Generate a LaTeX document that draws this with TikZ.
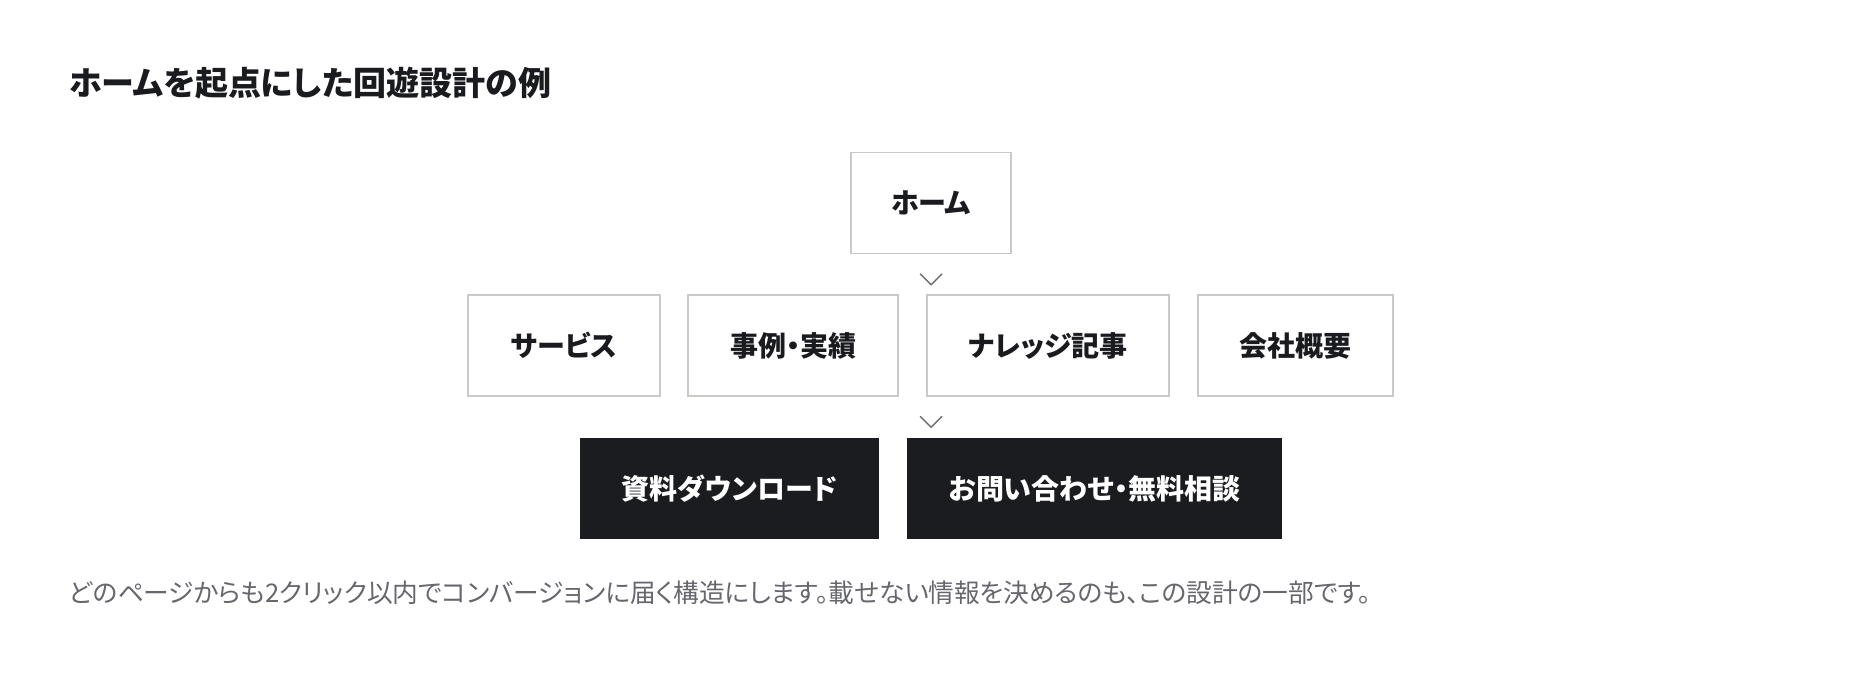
\documentclass[tikz,border=0pt]{standalone}
\usepackage{fontspec}
\setmainfont{Noto Sans CJK JP}[CharacterWidth=AlternateProportional]
\usetikzlibrary{calc}
\definecolor{inkc}{HTML}{1A1B1F}
\definecolor{edgec}{HTML}{C9C9C5}
\definecolor{darkc}{HTML}{1B1C20}
\definecolor{chevc}{HTML}{6B6E75}
\definecolor{notec}{HTML}{66676D}
\tikzset{
  pagebox/.style={draw=edgec, line width=1.5pt, fill=white, text=inkc, minimum height=101pt, inner sep=0pt, font=\fontsize{28}{32}\selectfont\bfseries},
  cvbox/.style={fill=darkc, text=white, minimum height=101pt, inner sep=0pt, font=\fontsize{28}{32}\selectfont\bfseries},
  chev/.style={draw=chevc, line width=1.4pt, line join=miter}
}
\begin{document}
\begin{tikzpicture}[x=1pt, y=-1pt]
	\useasboundingbox (0,0) rectangle (1860,684);
	% Tiêu đề
	\node[anchor=west, text=inkc, inner sep=0pt, font=\fontsize{33}{37}\selectfont\bfseries] (title) at (69,83) {ホームを起点にした回遊設計の例};
	% Hàng 1
	\node[pagebox, minimum width=160pt] (home) at (931,203) {ホーム};
	% Hàng 2
	\node[pagebox, minimum width=192pt] (svc) at (564,345.5) {サービス};
	\node[pagebox, minimum width=210pt] (case) at (793,345.5) {事例・実績};
	\node[pagebox, minimum width=242pt] (know) at (1048,345.5) {ナレッジ記事};
	\node[pagebox, minimum width=195pt] (corp) at (1295.5,345.5) {会社概要};
	% Hàng 3
	\node[cvbox, minimum width=299pt] (dl) at (729.5,488.5) {資料ダウンロード};
	\node[cvbox, minimum width=375pt] (contact) at (1094.5,488.5) {お問い合わせ・無料相談};
	% Mũi tên
	\coordinate (c1) at ($(home.south)+(0,25)$);
	\coordinate (c2) at ($(home.south |- know.south)+(0,25)$);
	\draw[chev] ($(c1)+(-11,-5.5)$) -- ($(c1)+(0,5.5)$) -- ($(c1)+(11,-5.5)$);
	\draw[chev] ($(c2)+(-11,-5.5)$) -- ($(c2)+(0,5.5)$) -- ($(c2)+(11,-5.5)$);
	% Ghi chú
	\node[anchor=west, text=notec, inner sep=0pt, font=\fontsize{25.7}{30}\selectfont] (note) at (69,593) {どのページからも2クリック以内でコンバージョンに届く構造にします。載せない情報を決めるのも、この設計の一部です。};
\end{tikzpicture}
\end{document}
